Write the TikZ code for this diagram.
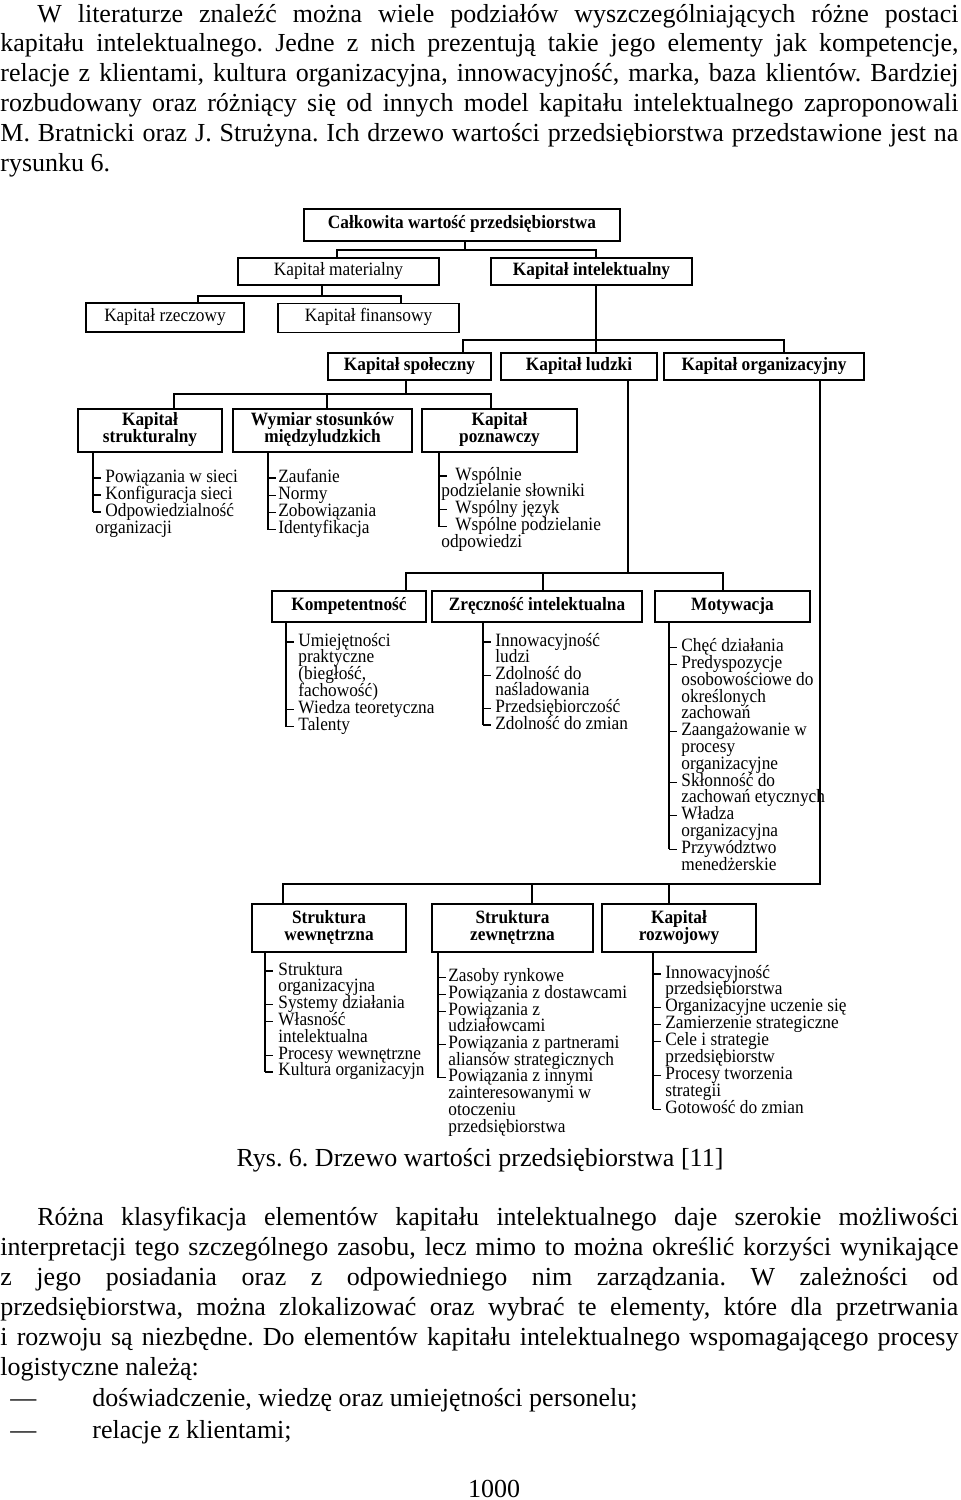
\documentclass[tikz,border=0pt]{standalone}
\usepackage{fontspec}
\setmainfont{Liberation Serif}
\newfontfamily\dgf[FakeStretch=0.92]{Liberation Serif}
\usetikzlibrary{calc}
\frenchspacing
\newcommand\dg{\dgf\fontsize{9.4}{8.5}\selectfont}
\newcommand\dgb{\dg\bfseries\lineskiplimit-20pt\relax}
\newcommand\dgr{\dg\lineskiplimit-20pt\relax}
\newcommand\bd{\fontsize{13}{15}\selectfont}
\newcommand\bs{\rule[-2.7pt]{0pt}{7.2pt}}
\tikzset{
 box/.style={draw, line width=0.75pt, inner sep=0pt, align=center, font=\dgb},
 pbox/.style={box, font=\dgr},
 conn/.style={line width=0.6pt},
 brk/.style={line width=0.55pt},
 item/.style={inner sep=0pt, font=\dg, anchor=base west},
 body/.style={inner sep=0pt, font=\bd, anchor=base west},
}
% #1 name, #2 box, #3 line x, #4 gap, #5 first baseline, #6 pitch, #7 last tick index, #8 items
\newcommand\blist[8]{%
 \foreach \f/\t [count=\i] in {#8}{%
  \pgfmathsetmacro\yy{#5+(\i-1)*#6}%
  \ifnum\f=2\relax
   \node[item] (#1-\i) at ({#3+2},\yy) {\t};%
  \else
   \node[item] (#1-\i) at ({#3+#4},\yy) {\t};%
  \fi
  \ifnum\f=1\relax \draw[brk] (#3,\yy-4) -- ++(8,0);\fi
 }%
 \coordinate (#1-x) at (#3,0);
 \coordinate (#1-end) at (#3,{#5+(#7-1)*#6-4});
 \draw[brk] (#2.south -| #1-x) -- (#1-end);
}
\begin{document}
\begin{tikzpicture}[x=0.5pt,y=-0.5pt]
\useasboundingbox (0,0) rectangle (960,1500);
\fill[white] (0,0) rectangle (960,1500);

% ---- top paragraph
\node[body] (t1) at (37,22) {\makebox[460.5pt][s]{W literaturze znaleźć można wiele podziałów wyszczególniających różne postaci}};
\node[body] (t2) at (0,51.8) {\makebox[479pt][s]{kapitału intelektualnego. Jedne z nich prezentują takie jego elementy jak kompetencje,}};
\node[body] (t3) at (0,81.6) {\makebox[479pt][s]{relacje z klientami, kultura organizacyjna, innowacyjność, marka, baza klientów. Bardziej}};
\node[body] (t4) at (0,111.4) {\makebox[479pt][s]{rozbudowany oraz różniący się od innych model kapitału intelektualnego zaproponowali}};
\node[body] (t5) at (0,141.2) {\makebox[479pt][s]{M. Bratnicki oraz J. Strużyna. Ich drzewo wartości przedsiębiorstwa przedstawione jest na}};
\node[body] (t6) at (0,171) {rysunku 6.};

% ---- boxes
\node[box,minimum width=158pt,minimum height=16pt] (calk) at (462,225) {\bs Całkowita wartość przedsiębiorstwa};
\node[pbox,minimum width=100.5pt,minimum height=13.5pt] (mat) at (338.5,271.5) {\bs Kapitał materialny};
\node[box,minimum width=100.5pt,minimum height=13.5pt] (int) at (591.5,271.5) {\bs Kapitał intelektualny};
\node[pbox,minimum width=79pt,minimum height=14.5pt] (rzecz) at (165,317.5) {\bs Kapitał rzeczowy};
\node[pbox,minimum width=90.5pt,minimum height=14.5pt] (fin) at (368.5,318) {\bs Kapitał finansowy};
\node[box,minimum width=81.5pt,minimum height=13.5pt] (spol) at (409.5,366.5) {\bs Kapitał społeczny};
\node[box,minimum width=78pt,minimum height=13.5pt] (ludz) at (579,366.5) {\bs Kapitał ludzki};
\node[box,minimum width=100pt,minimum height=13.5pt] (org) at (764,366.5) {\bs Kapitał organizacyjny};
\node[box,minimum width=72pt,minimum height=21.5pt] (strukt) at (150,430.5) {\bs Kapitał\\\bs strukturalny};
\node[box,minimum width=89.5pt,minimum height=21.5pt] (wymiar) at (322.5,430.5) {\bs Wymiar stosunków\\\bs międzyludzkich};
\node[box,minimum width=77.5pt,minimum height=21.5pt] (pozn) at (499.5,430.5) {\bs Kapitał\\\bs poznawczy};
\node[box,minimum width=77pt,minimum height=15.5pt] (komp) at (349,606.5) {\bs Kompetentność};
\node[box,minimum width=105pt,minimum height=15.5pt] (zrecz) at (537,606.5) {\bs Zręczność intelektualna};
\node[box,minimum width=77.5pt,minimum height=15.5pt] (motyw) at (732.5,606.5) {\bs Motywacja};
\node[box,minimum width=77pt,minimum height=24pt] (wewn) at (329,928) {\bs Struktura\\\bs wewnętrzna};
\node[box,minimum width=80.5pt,minimum height=24pt] (zewn) at (512.5,928) {\bs Struktura\\\bs zewnętrzna};
\node[box,minimum width=77pt,minimum height=24pt] (rozw) at (679,928) {\bs Kapitał\\\bs rozwojowy};

% ---- connectors
\coordinate (j0) at (465,250); \coordinate (j0a) at (337,250); \coordinate (j0b) at (596,250);
\draw[conn] (calk.south -| j0) -- (j0);
\draw[conn] (mat.north -| j0a) -- (j0a) -- (j0b) -- (int.north -| j0b);

\coordinate (j1) at (322,296); \coordinate (j1a) at (198,296); \coordinate (j1b) at (401,296);
\draw[conn] (mat.south -| j1) -- (j1);
\draw[conn] (rzecz.north -| j1a) -- (j1a) -- (j1b) -- (fin.north -| j1b);

\coordinate (j2) at (596,340); \coordinate (j2a) at (463,340); \coordinate (j2b) at (784,340);
\draw[conn] (int.south -| j2) -- (ludz.north -| j2);
\draw[conn] (spol.north -| j2a) -- (j2a) -- (j2b) -- (org.north -| j2b);

\coordinate (j3) at (406,394); \coordinate (j3a) at (174,394); \coordinate (j3b) at (491,394); \coordinate (j3c) at (327,394);
\draw[conn] (spol.south -| j3) -- (j3);
\draw[conn] (strukt.north -| j3a) -- (j3a) -- (j3b) -- (pozn.north -| j3b);
\draw[conn] (j3c) -- (wymiar.north -| j3c);

\coordinate (j4) at (628,573); \coordinate (j4a) at (406,573); \coordinate (j4b) at (723,573); \coordinate (j4c) at (543,573);
\draw[conn] (ludz.south -| j4) -- (j4);
\draw[conn] (komp.north -| j4a) -- (j4a) -- (j4b) -- (motyw.north -| j4b);
\draw[conn] (j4c) -- (zrecz.north -| j4c);

\coordinate (j5) at (820,884); \coordinate (j5a) at (283,884); \coordinate (j5b) at (532,884); \coordinate (j5c) at (669,884);
\draw[conn] (org.south -| j5) -- (j5) -- (j5a) -- (wewn.north -| j5a);
\draw[conn] (j5b) -- (zewn.north -| j5b);
\draw[conn] (j5c) -- (rozw.north -| j5c);

% ---- lists
\blist{ls}{strukt}{93}{12}{482}{17}{3}{1/Powiązania w sieci,1/Konfiguracja sieci,1/Odpowiedzialność,2/organizacji}
\blist{lw}{wymiar}{268}{10}{482}{17.2}{4}{1/Zaufanie,1/Normy,1/Zobowiązania,1/Identyfikacja}
\blist{lp}{pozn}{439}{16}{480}{16.9}{4}{1/Wspólnie,2/podzielanie słowniki,1/Wspólny język,1/Wspólne podzielanie,2/odpowiedzi}
\blist{lk}{komp}{286}{12}{646}{16.9}{6}{1/Umiejętności,0/praktyczne,0/{(biegłość,},0/fachowość),1/Wiedza teoretyczna,1/Talenty}
\blist{lz}{zrecz}{483}{12}{646}{16.6}{6}{1/Innowacyjność,0/ludzi,1/Zdolność do,0/naśladowania,1/Przedsiębiorczość,1/Zdolność do zmian}
\blist{lm}{motyw}{669}{12}{651.7}{16.8}{13}{1/Chęć działania,1/Predyspozycje,0/osobowościowe do,0/określonych,0/zachowań,1/Zaangażowanie w,0/procesy,0/organizacyjne,1/Skłonność do,0/zachowań etycznych,1/Władza,0/organizacyjna,1/Przywództwo,0/menedżerskie}
\blist{lwe}{wewn}{265}{13}{975}{16.83}{7}{1/Struktura,0/organizacyjna,1/Systemy działania,1/Własność,0/intelektualna,1/Procesy wewnętrzne,1/Kultura organizacyjn}
\blist{lze}{zewn}{438}{10}{981.7}{16.7}{7}{1/Zasoby rynkowe,1/Powiązania z dostawcami,1/Powiązania z,0/udziałowcami,1/Powiązania z partnerami,0/aliansów strategicznych,1/Powiązania z innymi,0/zainteresowanymi w,0/otoczeniu,0/przedsiębiorstwa}
\blist{lro}{rozw}{653}{12}{978}{16.9}{9}{1/Innowacyjność,0/przedsiębiorstwa,1/Organizacyjne uczenie się,1/Zamierzenie strategiczne,1/Cele i strategie,0/przedsiębiorstw,1/Procesy tworzenia,0/strategii,1/Gotowość do zmian}

% ---- caption and bottom paragraph
\node[body,anchor=base] (cap) at (480,1166) {Rys. 6. Drzewo wartości przedsiębiorstwa [11]};
\node[body] (b1) at (37,1225) {\makebox[460.5pt][s]{Różna klasyfikacja elementów kapitału intelektualnego daje szerokie możliwości}};
\node[body] (b2) at (0,1255) {\makebox[479pt][s]{interpretacji tego szczególnego zasobu, lecz mimo to można określić korzyści wynikające}};
\node[body] (b3) at (0,1285) {\makebox[479pt][s]{z jego posiadania oraz z odpowiedniego nim zarządzania. W zależności od}};
\node[body] (b4) at (0,1315) {\makebox[479pt][s]{przedsiębiorstwa, można zlokalizować oraz wybrać te elementy, które dla przetrwania}};
\node[body] (b5) at (0,1345) {\makebox[479pt][s]{i rozwoju są niezbędne. Do elementów kapitału intelektualnego wspomagającego procesy}};
\node[body] (b6) at (0,1375) {logistyczne należą:};
\node[body] (d1) at (10,1406) {—};
\node[body] (b7) at (92,1406) {doświadczenie, wiedzę oraz umiejętności personelu;};
\node[body] (d2) at (10,1438) {—};
\node[body] (b8) at (92,1438) {relacje z klientami;};
\node[body,anchor=base] (pg) at (494,1497) {1000};
\end{tikzpicture}
\end{document}
